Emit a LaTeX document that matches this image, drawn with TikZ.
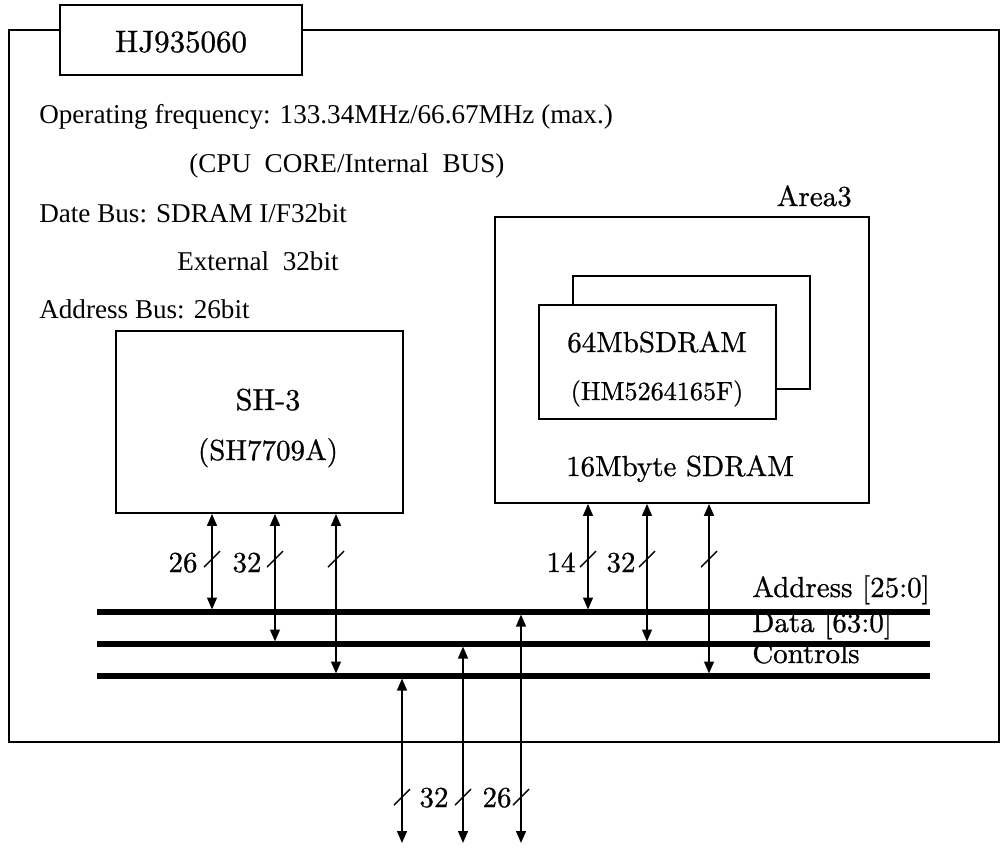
\documentclass[tikz,border=0pt]{standalone}
\usepackage{fontspec}
\newfontfamily\descfont{Liberation Serif}
\newfontfamily\labelfont{lmroman10-regular.otf}[FakeBold=0.8]
\usetikzlibrary{positioning, arrows.meta}

\tikzset{
  blk/.style={draw, line width=1.2pt, fill=white, inner sep=0pt},
  lbl/.style={font=\labelfont\fontsize{20.6}{24}\selectfont, inner sep=0pt, anchor=base},
  desc/.style={font=\descfont\fontsize{19.3}{23}\selectfont, inner sep=0pt, anchor=base west},
  bus/.style={line width=3.6pt},
  link/.style={line width=1.2pt, {Triangle[width=7pt,length=8.5pt]}-{Triangle[width=7pt,length=8.5pt]}},
  tick/.style={line width=1pt},
}

\begin{document}
\begin{tikzpicture}[x=0.025cm, y=-0.025cm]
  \useasboundingbox (0,0) rectangle (1003,850);

  % board frame and title
  \node[blk, fill=none, minimum width=24.75cm, minimum height=17.8cm] (board) at (504,386) {};
  \node[blk, minimum width=6.05cm, minimum height=1.75cm] (chip) at (181,40) {};
  \node[lbl, font=\labelfont\fontsize{22}{26}\selectfont] (chipname) at (181,52) {HJ935060};

  % spec text
  \node[desc] (freq) at (39,123) {Operating frequency: 133.34MHz/66.67MHz (max.)};
  \node[desc] (freq2) at (189,172) {(CPU\ \ CORE/Internal\ \ BUS)};
  \node[desc] (dbus) at (39,222) {Date Bus: SDRAM I/F32bit};
  \node[desc] (dbus2) at (177,270) {External\ \ 32bit};
  \node[desc] (abus) at (39,318) {Address Bus: 26bit};

  % CPU
  \node[blk, minimum width=7.175cm, minimum height=4.55cm] (cpu) at (259.5,422) {};
  \node[lbl, font=\labelfont\fontsize{21.5}{26}\selectfont] (cpuname) at (268,410) {SH-3};
  \node[lbl] (cpupart) at (268,460) {(SH7709A)};

  % SDRAM area
  \node[blk, minimum width=9.35cm, minimum height=7.15cm] (area) at (682,360) {};
  \node[lbl, anchor=base east] (areaname) at (852,206) {Area3};
  \node[blk, minimum width=5.925cm, minimum height=2.825cm] (ramback) at (691.5,332.5) {};
  \node[blk, minimum width=5.925cm, minimum height=2.85cm] (ram) at (657.5,362) {};
  \node[lbl] (ramname) at (657,352) {64MbSDRAM};
  \node[lbl, font=\labelfont\fontsize{18.6}{22}\selectfont] (rampart) at (657,400) {(HM5264165F)};
  \node[lbl] (areasize) at (680,476) {16Mbyte SDRAM};

  % buses
  \coordinate (addrW) at (97,612);  \coordinate (addrE) at (930,612);
  \coordinate (dataW) at (97,644);  \coordinate (dataE) at (930,644);
  \coordinate (ctrlW) at (97,676);  \coordinate (ctrlE) at (930,676);
  \draw[bus] (addrW) -- (addrE);
  \draw[bus] (dataW) -- (dataE);
  \draw[bus] (ctrlW) -- (ctrlE);
  \node[lbl, anchor=base west] (addrname) at (752,597) {Address [25:0]};
  \node[lbl, anchor=base west] (dataname) at (752,632) {Data [63:0]};
  \node[lbl, anchor=base west] (ctrlname) at (752,663) {Controls};

  % taps
  \coordinate (a1) at (212,612); \coordinate (d1) at (275,644); \coordinate (c1) at (336,676);
  \coordinate (a2) at (588,612); \coordinate (d2) at (647,644); \coordinate (c2) at (709,676);
  \coordinate (c3) at (402,676); \coordinate (d3) at (463,644); \coordinate (a3) at (521,612);
  \coordinate (o1) at (402,843); \coordinate (o2) at (463,843); \coordinate (o3) at (521,843);

  \foreach \t in {a1,d1,c1} {
    \draw[link, shorten >=1.8pt] (cpu.south -| \t) -- (\t);
    \draw[tick] (\t |- 0,559) ++(-8,8) -- ++(16,-16);
  }
  \foreach \t in {a2,d2,c2} {
    \draw[link, shorten >=1.8pt] (area.south -| \t) -- (\t);
    \draw[tick] (\t |- 0,559) ++(-8,8) -- ++(16,-16);
  }
  \foreach \t/\o in {c3/o1,d3/o2,a3/o3} {
    \draw[link, shorten <=1.8pt] (\t) -- (\o);
    \draw[tick] (\o |- 0,797) ++(-8,8) -- ++(16,-16);
  }

  % widths
  \node[lbl] (w1) at (183,572) {26};
  \node[lbl] (w2) at (247,572) {32};
  \node[lbl] (w3) at (561,572) {14};
  \node[lbl] (w4) at (621,572) {32};
  \node[lbl] (w5) at (434,807) {32};
  \node[lbl] (w6) at (497,807) {26};
\end{tikzpicture}
\end{document}
